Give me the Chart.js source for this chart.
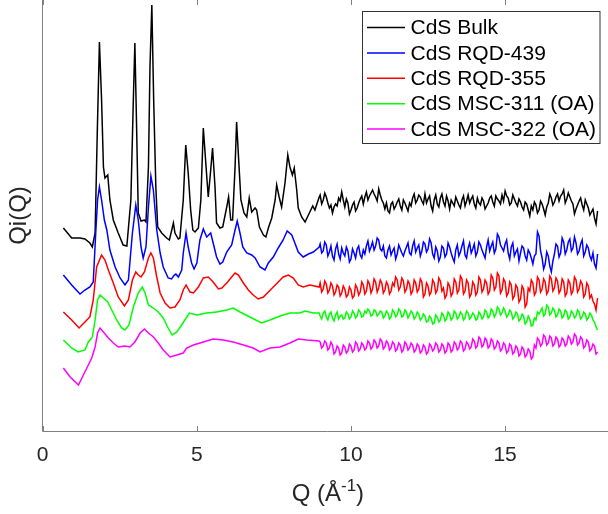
<!DOCTYPE html>
<html>
<head>
<meta charset="utf-8">
<script src="https://cdn.jsdelivr.net/npm/chart.js@4.4.1/dist/chart.umd.min.js"></script>
<style>
html, body { margin: 0; padding: 0; overflow: hidden; background: #fff; width: 608px; height: 514px; }
#wrap { position: absolute; left: 0; top: -20px; width: 640px; height: 560px; }
</style>
</head>
<body>
<div id="wrap"><canvas id="mainChart" width="640" height="560"></canvas></div>
<script>
// Series labels and colours
const seriesLabels = ['CdS Bulk', 'CdS RQD-439', 'CdS RQD-355', 'CdS MSC-311 (OA)', 'CdS MSC-322 (OA)'];
const seriesColors = ['#000000', '#0000ff', '#ff0000', '#00ff00', '#ff00ff'];
const xTicks = [0, 5, 10, 15];

// Low-Q part of each curve: [Q, Qi(Q)] (offset, arbitrary units)
const bulkLow = [[0.67,204],[0.94,194],[1.21,194],[1.37,193],[1.53,189],[1.61,185],[1.70,199],[1.77,299],[1.84,390],[1.91,332],[1.97,265],[2.02,254],[2.11,257],[2.18,232],[2.29,212],[2.45,199],[2.61,187],[2.73,186],[2.86,232],[2.94,332],[2.99,389],[3.05,299],[3.10,219],[3.19,211],[3.30,212],[3.35,210],[3.43,265],[3.48,365],[3.54,427],[3.60,332],[3.67,245],[3.73,205],[3.86,199],[4.02,194],[4.11,192],[4.24,209],[4.29,199],[4.40,193],[4.45,194],[4.56,232],[4.64,287],[4.72,259],[4.80,222],[4.87,202],[4.94,200],[5.05,204],[5.13,232],[5.21,304],[5.30,265],[5.37,235],[5.45,262],[5.51,284],[5.59,245],[5.64,209],[5.75,204],[5.84,205],[5.97,225],[6.03,235],[6.10,212],[6.16,212],[6.24,265],[6.29,310],[6.37,265],[6.43,232],[6.53,219],[6.62,215],[6.70,234],[6.78,220],[6.89,224],[6.94,222],[7.03,205],[7.16,197],[7.24,195],[7.32,204],[7.43,214],[7.54,232],[7.59,247],[7.67,235],[7.75,225],[7.86,249],[7.95,277],[8.02,265],[8.10,257],[8.16,264],[8.24,242],[8.29,224],[8.40,215],[8.51,210],[8.62,217],[8.76,226],[8.83,222],[8.97,235]];
const rqd439Low = [[0.67,157],[0.94,147],[1.21,138],[1.37,142],[1.53,145],[1.64,150],[1.72,199],[1.78,232],[1.84,245],[1.91,232],[2.00,212],[2.08,202],[2.18,182],[2.35,165],[2.51,154],[2.67,147],[2.78,152],[2.91,199],[3.02,227],[3.10,212],[3.19,185],[3.26,174],[3.35,185],[3.43,225],[3.51,256],[3.59,242],[3.70,202],[3.81,179],[3.91,165],[4.07,154],[4.18,153],[4.27,157],[4.32,158],[4.40,155],[4.51,162],[4.56,179],[4.65,199],[4.72,185],[4.83,169],[4.91,163],[5.00,169],[5.10,192],[5.21,203],[5.32,195],[5.45,199],[5.53,189],[5.64,175],[5.75,168],[5.84,170],[5.97,180],[6.13,187],[6.24,202],[6.31,211],[6.40,199],[6.49,185],[6.62,179],[6.78,177],[6.89,174],[7.05,165],[7.21,162],[7.32,169],[7.48,175],[7.64,184],[7.80,192],[7.93,201],[8.08,197],[8.18,189],[8.29,180],[8.45,175],[8.62,178],[8.78,180],[8.97,185]];
const rqd355Low = [[0.67,120],[0.94,112],[1.18,104],[1.37,110],[1.53,115],[1.64,132],[1.75,165],[1.91,177],[2.02,172],[2.13,162],[2.29,149],[2.45,135],[2.65,126],[2.78,132],[2.91,152],[3.02,160],[3.10,157],[3.19,155],[3.30,160],[3.43,174],[3.51,179],[3.59,174],[3.70,155],[3.81,139],[3.97,129],[4.13,124],[4.29,125],[4.45,132],[4.56,142],[4.65,147],[4.78,140],[4.89,139],[5.05,145],[5.21,154],[5.37,155],[5.53,150],[5.70,143],[5.81,144],[5.97,149],[6.13,155],[6.24,159],[6.35,157],[6.51,149],[6.67,142],[6.83,137],[6.99,133],[7.16,135],[7.32,140],[7.48,145],[7.64,150],[7.80,155],[7.97,157],[8.13,154],[8.29,147],[8.45,145],[8.67,147],[8.97,145]];
const msc311Low = [[0.67,92],[0.94,84],[1.15,80],[1.37,82],[1.48,90],[1.61,95],[1.70,112],[1.78,132],[1.86,137],[1.97,134],[2.11,130],[2.24,122],[2.40,112],[2.56,104],[2.67,102],[2.80,107],[2.94,125],[3.10,139],[3.23,145],[3.32,139],[3.43,127],[3.59,124],[3.75,120],[3.91,114],[4.07,104],[4.20,97],[4.35,100],[4.51,107],[4.61,112],[4.76,119],[5.00,117],[5.32,119],[5.64,120],[5.97,122],[6.18,124],[6.40,120],[6.72,115],[7.10,109],[7.37,112],[7.70,116],[8.02,119],[8.35,119],[8.51,121],[8.78,119],[8.97,119]];
const msc322Low = [[0.67,64],[0.89,55],[1.16,47],[1.32,57],[1.48,67],[1.59,74],[1.70,85],[1.78,99],[1.86,104],[1.97,100],[2.13,94],[2.29,89],[2.45,85],[2.67,86],[2.83,85],[2.99,90],[3.16,99],[3.30,103],[3.43,99],[3.59,95],[3.75,89],[3.91,82],[4.13,75],[4.35,77],[4.56,79],[4.67,84],[4.89,87],[5.21,90],[5.53,93],[5.86,92],[6.18,90],[6.51,87],[6.83,84],[7.05,80],[7.37,84],[7.70,85],[8.02,89],[8.29,93],[8.56,92],[8.97,91]];

// High-Q part, read on a common Q grid (one row per unit of Q)
const qHigh = [
 9.00,9.05,9.10,9.15,9.20,9.25,9.30,9.35,9.40,9.45,9.50,9.55,9.60,9.65,9.70,9.75,9.80,9.85,9.90,9.95,
 10.00,10.05,10.10,10.15,10.20,10.25,10.30,10.35,10.40,10.45,10.50,10.55,10.60,10.65,10.70,10.75,10.80,10.85,10.90,10.95,
 11.00,11.05,11.10,11.15,11.20,11.25,11.30,11.35,11.40,11.45,11.50,11.55,11.60,11.65,11.70,11.75,11.80,11.85,11.90,11.95,
 12.00,12.05,12.10,12.15,12.20,12.25,12.30,12.35,12.40,12.45,12.50,12.55,12.60,12.65,12.70,12.75,12.80,12.85,12.90,12.95,
 13.00,13.05,13.10,13.15,13.20,13.25,13.30,13.35,13.40,13.45,13.50,13.55,13.60,13.65,13.70,13.75,13.80,13.85,13.90,13.95,
 14.00,14.05,14.10,14.15,14.20,14.25,14.30,14.35,14.40,14.45,14.50,14.55,14.60,14.65,14.70,14.75,14.80,14.85,14.90,14.95,
 15.00,15.05,15.10,15.15,15.20,15.25,15.30,15.35,15.40,15.45,15.50,15.55,15.60,15.65,15.70,15.75,15.80,15.85,15.90,15.95,
 16.00,16.05,16.10,16.15,16.20,16.25,16.30,16.35,16.40,16.45,16.50,16.55,16.60,16.65,16.70,16.75,16.80,16.85,16.90,16.95,
 17.00,17.05,17.10,17.15,17.20,17.25,17.30,17.35,17.40,17.45,17.50,17.55,17.60,17.65,17.70,17.75,17.80,17.85,17.90,17.95,
 18.00];
const bulkHigh = [
 237,228,232,239,235,229,224,227,219,225,228,226,234,231,240,232,225,233,229,218,
 222,227,230,221,224,229,233,236,228,235,240,232,236,239,242,238,235,231,243,237,
 232,229,223,229,221,219,228,230,223,226,230,233,226,222,232,229,225,221,229,226,
 234,238,229,232,237,235,231,228,238,229,233,236,226,221,232,237,228,225,234,238,
 230,226,236,231,223,232,229,226,235,231,227,224,232,236,226,231,237,229,233,236,
 228,224,234,229,227,234,231,223,226,229,234,236,230,226,236,233,231,228,237,231,
 241,236,234,227,229,237,233,229,226,233,230,225,222,230,228,222,216,226,222,230,
 227,219,222,231,228,223,217,225,229,238,234,227,230,235,238,231,236,238,242,229,
 233,239,235,231,228,218,223,227,231,234,227,222,232,228,224,217,220,223,214,208,
 221];
const rqd439High = [
 188,179,181,190,187,176,180,186,176,172,183,188,178,173,184,179,176,185,181,170,
 173,183,179,174,183,186,177,174,182,178,186,191,181,185,190,182,186,194,192,183,
 181,186,176,174,182,186,177,181,184,173,178,187,183,179,176,181,185,189,179,177,
 186,191,180,184,187,176,181,190,188,180,183,193,189,178,174,185,181,171,175,186,
 184,175,178,189,185,179,174,170,182,187,176,180,186,191,177,174,184,189,179,183,
 188,176,180,190,187,182,178,174,185,192,181,186,190,179,183,198,195,187,184,181,
 188,192,179,173,185,189,176,180,183,171,179,186,184,176,172,182,179,174,168,176,
 178,200,196,181,174,163,168,180,176,166,160,171,178,188,186,175,179,194,190,178,
 182,190,193,181,184,195,189,178,181,188,192,176,180,187,184,176,172,179,168,164,
 178];
const rqd355High = [
 149,140,143,151,148,139,142,149,146,137,140,147,145,136,139,146,143,135,137,145,
 142,134,136,147,144,137,140,150,147,138,141,151,148,139,143,153,150,140,144,152,
 149,139,142,150,147,138,141,149,146,155,152,142,145,154,151,140,143,151,148,138,
 141,152,149,140,143,153,150,135,138,149,146,137,140,152,149,139,142,154,151,141,
 144,134,137,149,146,136,139,153,150,139,142,156,153,138,141,152,149,135,138,150,
 147,137,140,155,152,140,143,152,149,138,141,157,154,142,145,159,156,139,142,153,
 150,136,139,150,147,133,136,147,144,130,133,146,143,125,128,144,141,152,149,137,
 140,155,152,140,143,153,150,138,141,156,153,141,144,154,151,139,142,153,150,136,
 139,152,149,138,141,155,152,140,143,151,148,135,138,149,146,134,137,131,128,122,
 134];
const msc311High = [
 116,113,119,121,115,112,118,120,114,111,117,120,113,116,117,113,114,120,118,113,
 115,121,119,114,116,122,120,115,116,121,119,123,121,116,117,122,121,116,118,121,
 120,114,116,121,119,113,115,122,120,115,117,123,121,115,116,122,120,114,117,121,
 119,113,115,120,118,112,114,118,116,110,111,116,114,108,109,117,115,110,112,119,
 117,111,113,120,118,112,114,121,119,113,115,120,118,112,114,121,119,113,115,119,
 117,112,113,120,118,113,115,122,120,114,116,123,121,115,118,125,123,117,119,124,
 121,115,117,122,120,113,115,120,118,111,113,118,116,108,110,116,113,106,107,114,
 112,120,118,121,124,116,118,127,125,117,119,124,122,115,117,123,121,114,116,122,
 120,113,115,121,119,114,116,122,120,113,115,120,118,112,114,119,117,112,110,105,
 102];
const msc322High = [
 90,84,86,91,89,82,84,90,87,78,80,86,84,77,79,87,85,79,81,88,
 86,80,82,90,88,81,83,89,87,82,84,91,89,83,85,92,90,84,86,93,
 91,83,85,91,89,82,84,90,88,81,83,89,87,80,82,90,88,82,84,89,
 87,80,82,88,86,79,81,87,85,78,80,88,86,81,83,89,87,80,82,88,
 86,79,81,89,87,80,82,90,88,82,84,91,89,81,83,90,88,83,85,93,
 91,84,86,95,93,85,87,94,92,84,86,93,91,83,85,91,89,81,83,89,
 87,79,81,88,86,78,80,86,84,76,78,85,83,75,77,83,81,73,75,87,
 84,94,92,86,88,97,95,87,89,96,94,86,88,95,93,85,87,94,92,86,
 88,96,94,88,90,98,96,87,89,95,93,84,86,92,90,81,83,88,86,78,
 80];

const lowParts = [bulkLow, rqd439Low, rqd355Low, msc311Low, msc322Low];
const highParts = [bulkHigh, rqd439High, rqd355High, msc311High, msc322High];

function toPoints(low, high) {
    return low.map(p => ({x: p[0], y: p[1]}))
        .concat(high.map((v, i) => ({x: qHigh[i], y: v})));
}

const axisColor = '#808080';
const textColor = '#262626';
const fontName = '"Liberation Sans", Arial, sans-serif';

// axes box, inward ticks, axis titles and legend, MATLAB style
const framePlugin = {
    id: 'frame',
    afterDatasetsDraw(chart) {
        const ctx = chart.ctx;
        const a = chart.chartArea;
        const xs = chart.scales.x;
        ctx.save();
        ctx.strokeStyle = axisColor;
        ctx.lineWidth = 1;
        ctx.beginPath();
        ctx.moveTo(42.5, a.top);
        ctx.lineTo(42.5, a.bottom - 0.5);
        ctx.lineTo(a.right, a.bottom - 0.5);
        ctx.moveTo(42.5, a.top + 0.5);
        ctx.lineTo(a.right, a.top + 0.5);
        xTicks.forEach(t => {
            const px = Math.round(xs.getPixelForValue(t)) + 0.5;
            ctx.moveTo(px, a.bottom);
            ctx.lineTo(px, a.bottom - 6);
            ctx.moveTo(px, a.top);
            ctx.lineTo(px, a.top + 6);
        });
        ctx.stroke();

        // x title with superscript
        ctx.fillStyle = textColor;
        ctx.textBaseline = 'alphabetic';
        const big = '24px ' + fontName, small = '17px ' + fontName;
        ctx.font = big;
        const w1 = ctx.measureText('Q (Å').width;
        const w3 = ctx.measureText(')').width;
        ctx.font = small;
        const w2 = ctx.measureText('-1').width;
        const cx = (a.left + a.right) / 2;
        const x0 = cx - (w1 + w2 + w3) / 2;
        const by = a.bottom + 69;
        ctx.font = big;
        ctx.textAlign = 'left';
        ctx.fillText('Q (Å', x0, by);
        ctx.font = small;
        ctx.fillText('-1', x0 + w1, by - 10);
        ctx.font = big;
        ctx.fillText(')', x0 + w1 + w2, by);

        // y title
        ctx.save();
        ctx.translate(26, (a.top + a.bottom) / 2);
        ctx.rotate(-Math.PI / 2);
        ctx.textAlign = 'center';
        ctx.font = big;
        ctx.fillText('Qi(Q)', 0, 0);
        ctx.restore();

        // legend
        const bx = a.right - 250.5, by0 = a.top + 12.5, bw = 237.5, bh = 132;
        ctx.fillStyle = '#ffffff';
        ctx.fillRect(bx, by0, bw, bh);
        ctx.strokeStyle = '#333333';
        ctx.lineWidth = 1;
        ctx.strokeRect(bx, by0, bw, bh);
        ctx.font = '21px ' + fontName;
        ctx.textBaseline = 'middle';
        ctx.textAlign = 'left';
        chart.data.datasets.forEach((ds, i) => {
            const ry = by0 + 16 + i * 25.4;
            ctx.strokeStyle = ds.borderColor;
            ctx.lineWidth = 1.5;
            ctx.beginPath();
            ctx.moveTo(bx + 4.5, ry);
            ctx.lineTo(bx + 42.5, ry);
            ctx.stroke();
            ctx.fillStyle = '#000000';
            ctx.fillText(ds.label, bx + 48, ry + 1);
        });
        ctx.restore();
    }
};

const ctx = document.getElementById('mainChart').getContext('2d');
new Chart(ctx, {
    type: 'line',
    data: {
        datasets: seriesLabels.map((label, i) => ({
            label: label,
            data: toPoints(lowParts[i], highParts[i]),
            borderColor: seriesColors[i],
            borderWidth: 1.5,
            pointRadius: 0,
            tension: 0,
            fill: false,
            order: 5 - i
        }))
    },
    options: {
        responsive: false,
        animation: false,
        devicePixelRatio: 1,
        layout: { padding: { left: 0, top: 19, right: 27, bottom: 0 } },
        plugins: {
            legend: { display: false },
            tooltip: { enabled: false }
        },
        scales: {
            x: {
                type: 'linear',
                min: 0,
                max: 18.5,
                afterFit: s => { s.height = 108; },
                afterBuildTicks: s => { s.ticks = xTicks.map(v => ({value: v})); },
                grid: { display: false, drawTicks: false },
                border: { display: false },
                ticks: {
                    padding: 11,
                    color: textColor,
                    font: { family: fontName, size: 21 }
                }
            },
            y: {
                type: 'linear',
                min: 0,
                max: 433,
                afterFit: s => { s.width = 42.7; },
                grid: { display: false, drawTicks: false },
                border: { display: false },
                ticks: { display: false }
            }
        }
    },
    plugins: [framePlugin]
});
</script>
</body>
</html>
